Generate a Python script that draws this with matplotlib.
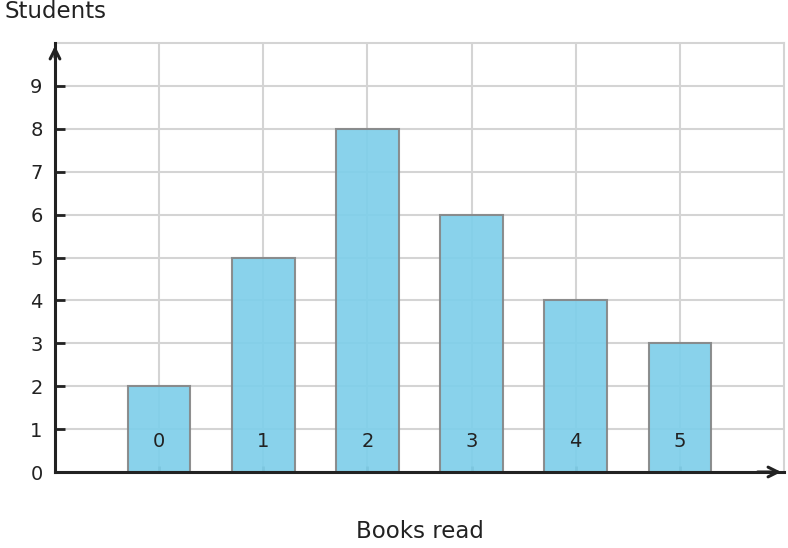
import matplotlib
matplotlib.use("Agg")
import matplotlib.pyplot as plt
import matplotlib.transforms as mtrans

books = [0, 1, 2, 3, 4, 5]  # books read
students = [2, 5, 8, 6, 4, 3]  # number of students
y_ticks = [0, 1, 2, 3, 4, 5, 6, 7, 8, 9]

fig = plt.figure(figsize=(7.88, 5.48), dpi=100)
ax = fig.add_axes([55 / 788, 76 / 548, 729 / 788, 429 / 548])

ax.bar(books, students, width=0.6, color="#7fcfea", alpha=0.92,
       edgecolor="#868686", linewidth=1.5, zorder=2)

ax.set_xlim(-1, 6)
ax.set_ylim(0, 10)
ax.set_axisbelow(True)
ax.grid(True, color="#d4d4d4", linewidth=1.5)

ax.set_yticks(y_ticks)
ax.set_yticklabels([str(v) for v in y_ticks], fontsize=14, color="#222222")
ax.tick_params(axis="y", direction="in", length=7, width=2, color="#222222", pad=9)

# x tick labels sit inside the bars
ax.set_xticks(books)
ax.set_xticklabels([])
ax.tick_params(axis="x", direction="in", length=4, width=2, color="#666666")
trans = mtrans.blended_transform_factory(ax.transData, ax.transAxes)
for b in books:
    ax.text(b, 0.072, str(b), transform=trans, ha="center", va="center",
            fontsize=14, color="#222222", zorder=3)

for s in ["top", "right"]:
    ax.spines[s].set_color("#d4d4d4")
    ax.spines[s].set_linewidth(1.5)
for s in ["left", "bottom"]:
    ax.spines[s].set_color("#222222")
    ax.spines[s].set_linewidth(2.2)
    ax.spines[s].set_zorder(4)

# arrow heads on the axes
ax.annotate("", xy=(0, 1.0), xytext=(0, 0.96), xycoords="axes fraction",
            arrowprops=dict(arrowstyle="->,head_length=0.7,head_width=0.35",
                            color="#222222", lw=2.2), annotation_clip=False)
ax.annotate("", xy=(1.0, 0), xytext=(0.96, 0), xycoords="axes fraction",
            arrowprops=dict(arrowstyle="->,head_length=0.7,head_width=0.35",
                            color="#222222", lw=2.2), annotation_clip=False)

fig.text(4 / 788, 1 - 12 / 548, "Students", fontsize=16.5, color="#222222",
         ha="left", va="center")
fig.text(420 / 788, 1 - 531 / 548, "Books read", fontsize=16.5, color="#222222",
         ha="center", va="center")

fig.savefig("out.png", dpi=100)
